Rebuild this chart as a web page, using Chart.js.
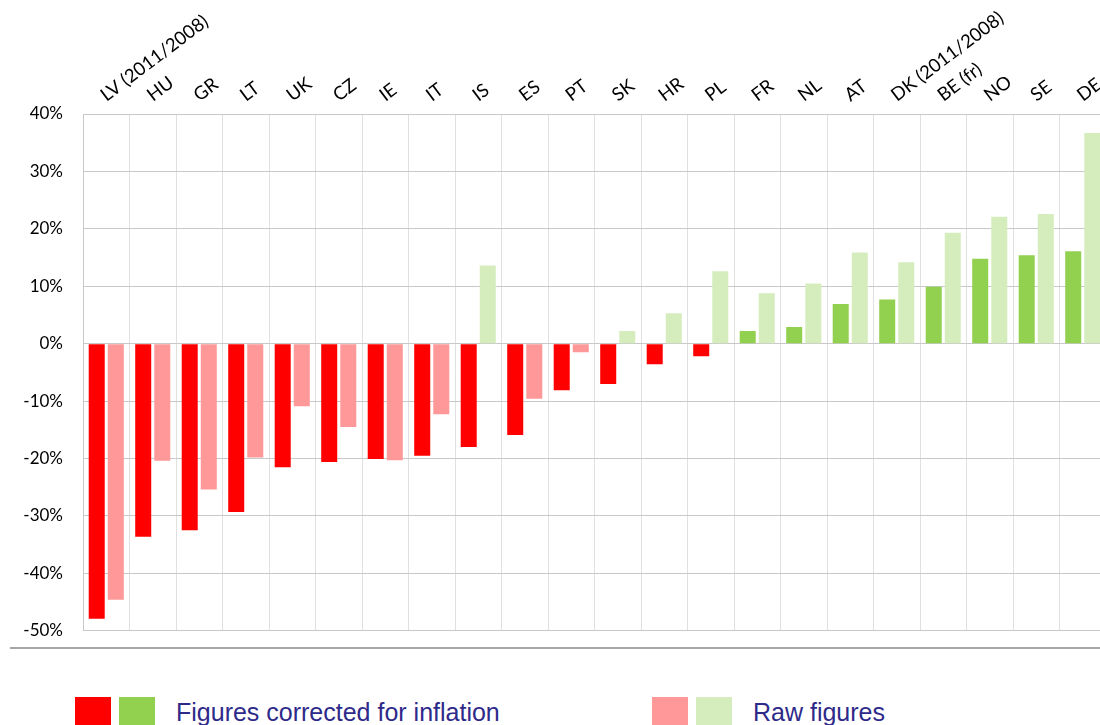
<!DOCTYPE html>
<html>
<head>
<meta charset="utf-8">
<script src="https://cdn.jsdelivr.net/npm/chart.js@4.4.1/dist/chart.umd.min.js"></script>
<style>
  html, body { margin: 0; padding: 0; background: #fff; overflow: hidden; width: 1100px; height: 725px; }
  #wrap { position: absolute; left: 0; top: 0; width: 1112px; height: 661px; }
  #sep { position: absolute; left: 10px; top: 647px; width: 1090px; border-top: 2px solid #a6a6a6; }
  .leg { position: absolute; top: 697px; height: 30px; display: flex; align-items: flex-start; }
  .sw { width: 36px; height: 30px; margin-right: 8px; }
  .lt { font-family: "Liberation Sans", Arial, sans-serif; font-size: 25px; color: #2e2a8a;
        margin-left: 13px; line-height: 30px; white-space: nowrap; }
</style>
</head>
<body>
<div id="wrap"><canvas id="grafico"></canvas></div>
<div id="sep"></div>
<div class="leg" style="left:75px">
  <div class="sw" style="background:#ff0000"></div>
  <div class="sw" style="background:#92d050"></div>
  <div class="lt">Figures corrected for inflation</div>
</div>
<div class="leg" style="left:652px">
  <div class="sw" style="background:#ff9999"></div>
  <div class="sw" style="background:#d5edbd"></div>
  <div class="lt">Raw figures</div>
</div>
<script>
// Países
const paises = ['LV (2011/2008)', 'HU', 'GR', 'LT', 'UK', 'CZ', 'IE', 'IT', 'IS', 'ES', 'PT',
  'SK', 'HR', 'PL', 'FR', 'NL', 'AT', 'DK (2011/2008)', 'BE (fr)', 'NO', 'SE', 'DE'];

// Variación corregida por inflación (%)
const corregido = [-47.9, -33.6, -32.5, -29.3, -21.5, -20.6, -20.1, -19.5, -18.0, -15.9, -8.1,
  -7.0, -3.6, -2.2, 2.2, 2.9, 6.9, 7.7, 9.9, 14.8, 15.4, 16.1];

// Variación en cifras brutas (%)
const bruto = [-44.6, -20.4, -25.4, -19.8, -10.9, -14.5, -20.3, -12.3, 13.6, -9.6, -1.5,
  2.2, 5.3, 12.6, 8.8, 10.5, 15.9, 14.2, 19.3, 22.1, 22.6, 36.7];

// Colores según el signo
const colorCorregido = corregido.map(v => v < 0 ? '#ff0000' : '#92d050');
const colorBruto = bruto.map(v => v < 0 ? '#ff9999' : '#d5edbd');

const ctx = document.getElementById('grafico').getContext('2d');
new Chart(ctx, {
  type: 'bar',
  data: {
    labels: paises,
    datasets: [{
      label: 'Figures corrected for inflation',
      data: corregido,
      backgroundColor: colorCorregido,
      categoryPercentage: 0.82,
      barPercentage: 0.84
    }, {
      label: 'Raw figures',
      data: bruto,
      backgroundColor: colorBruto,
      categoryPercentage: 0.82,
      barPercentage: 0.84
    }]
  },
  options: {
    responsive: true,
    maintainAspectRatio: false,
    animation: false,
    layout: { padding: { left: 0, right: 6, top: 0, bottom: 2 } },
    plugins: {
      legend: { display: false },
      tooltip: { enabled: false }
    },
    scales: {
      x: {
        position: 'top',
        grid: { color: '#e0e0e0', drawTicks: false, offset: true },
        border: { color: '#c8c8c8' },
        ticks: {
          autoSkip: false,
          minRotation: 37,
          maxRotation: 37,
          padding: 8,
          labelOffset: 10,
          color: '#000',
          font: { family: 'Lato', size: 18.5 }
        },
        afterFit: (eje) => { eje.height = 114; }
      },
      y: {
        min: -50,
        max: 40,
        grid: { color: '#c8c8c8', drawTicks: false },
        border: { color: '#c8c8c8' },
        ticks: {
          stepSize: 10,
          padding: 20,
          color: '#000',
          font: { family: 'Lato', size: 17 },
          callback: (v) => v + '%'
        },
        afterFit: (eje) => { eje.width = 83; }
      }
    }
  }
});
</script>
</body>
</html>
